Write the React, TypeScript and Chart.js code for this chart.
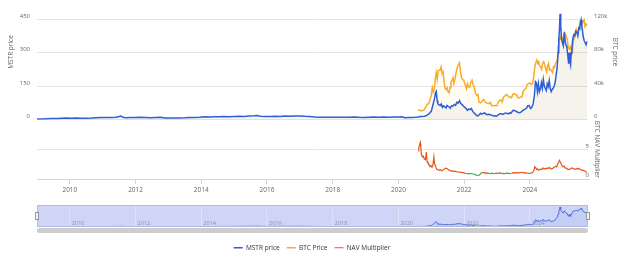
import React, { useEffect, useRef } from "react";
import { Chart, registerables } from "chart.js";

Chart.register(...registerables);

const FONT = "'Open Sans', 'DejaVu Sans', sans-serif";
const BLUE = "#2f5fd6";
const ORANGE = "#f6ad2b";
const RED = "#e2571c";
const GREEN = "#3fb34f";

const xTickYears = [2010, 2012, 2014, 2016, 2018, 2020, 2022, 2024];
const mstrTicks = [0, 150, 300, 450];
const btcTicks = [0, 40, 80, 120];
const navTicks = [0, 5];

const mstrYears = [
  2009.0, 2009.15, 2009.3, 2009.45, 2009.6, 2009.75, 2009.9, 2010.05, 2010.2, 2010.35, 2010.5, 2010.65, 2010.8, 2010.95,
  2011.1, 2011.25, 2011.4, 2011.5, 2011.55, 2011.62, 2011.7, 2011.85, 2012.0, 2012.15, 2012.3, 2012.45, 2012.6, 2012.75,
  2012.9, 2013.05, 2013.2, 2013.35, 2013.5, 2013.65, 2013.8, 2013.95, 2014.1, 2014.25, 2014.4, 2014.55, 2014.7, 2014.85,
  2015.0, 2015.15, 2015.3, 2015.45, 2015.6, 2015.7, 2015.8, 2015.95, 2016.1, 2016.25, 2016.4, 2016.55, 2016.7, 2016.85,
  2017.0, 2017.15, 2017.3, 2017.45, 2017.6, 2017.75, 2017.9, 2018.05, 2018.2, 2018.35, 2018.5, 2018.65, 2018.8, 2018.95,
  2019.1, 2019.25, 2019.4, 2019.55, 2019.7, 2019.85, 2020.0, 2020.1, 2020.2, 2020.3, 2020.4, 2020.5,
  2020.6, 2020.66, 2020.72, 2020.8, 2020.86, 2020.92, 2020.97, 2021.0, 2021.04, 2021.07, 2021.1, 2021.13, 2021.15, 2021.18,
  2021.2, 2021.24, 2021.27, 2021.3, 2021.34, 2021.37, 2021.41, 2021.45, 2021.48, 2021.52, 2021.55, 2021.58, 2021.62, 2021.66,
  2021.7, 2021.74, 2021.78, 2021.82, 2021.86, 2021.9, 2021.94, 2021.98, 2022.02, 2022.06, 2022.1, 2022.14, 2022.18, 2022.22,
  2022.26, 2022.3, 2022.34, 2022.38, 2022.42, 2022.46, 2022.5, 2022.54, 2022.58, 2022.62, 2022.66, 2022.7, 2022.74, 2022.78,
  2022.82, 2022.86, 2022.9, 2022.94, 2022.98, 2023.02, 2023.06, 2023.1, 2023.14, 2023.18, 2023.22, 2023.26, 2023.3, 2023.34,
  2023.38, 2023.42, 2023.46, 2023.5, 2023.54, 2023.58, 2023.62, 2023.66, 2023.7, 2023.74, 2023.78, 2023.82, 2023.86, 2023.9,
  2023.94, 2023.98, 2024.02, 2024.06, 2024.1, 2024.14, 2024.17, 2024.2, 2024.23, 2024.26, 2024.29, 2024.32, 2024.35, 2024.38,
  2024.41, 2024.44, 2024.47, 2024.5, 2024.53, 2024.56, 2024.59, 2024.62, 2024.65, 2024.68, 2024.71, 2024.74, 2024.77, 2024.8,
  2024.83, 2024.86, 2024.88, 2024.9, 2024.92, 2024.94, 2024.96, 2024.98, 2025.0, 2025.02, 2025.05, 2025.08, 2025.11, 2025.13,
  2025.16, 2025.18, 2025.2, 2025.22, 2025.24, 2025.26, 2025.28, 2025.31, 2025.34, 2025.37, 2025.4, 2025.43, 2025.46, 2025.49,
  2025.52, 2025.54, 2025.56, 2025.58, 2025.6, 2025.62, 2025.65, 2025.68, 2025.71, 2025.74,
];
const mstrPrice = [
  3, 2.5, 3.5, 4.5, 5, 6, 7, 6.5, 7, 6.5, 6, 7, 8.5, 9.5,
  10, 9.5, 11, 14, 16, 10.5, 8.5, 9, 9.5, 11, 10, 8.5, 10, 10.5,
  7.5, 7, 7, 7.5, 8, 9, 10, 10.5, 12.5, 11.5, 12.5, 13, 13.5, 13,
  14, 15, 14.5, 16, 17, 18.5, 15, 14, 13.5, 15, 14.5, 16, 15, 16.5,
  16.5, 15, 14, 12, 10.5, 11, 10.5, 11, 10.5, 11, 10.5, 12, 10.5, 10,
  11, 11.5, 11, 11.5, 11, 12, 12, 12.5, 8, 9, 9.5, 10.5,
  12, 14, 13.5, 15, 19, 24, 33, 37, 60, 78, 95, 120, 126, 85,
  70, 66, 63, 70, 55, 62, 58, 52, 63, 58, 56, 51, 62, 60,
  68, 64, 78, 74, 85, 72, 67, 60, 55, 50, 42, 48, 45, 50,
  38, 30, 25, 18, 17, 22, 29, 25, 28, 30, 25, 22, 24, 23,
  21, 19, 16, 17, 15, 19, 24, 27, 25, 23, 27, 29, 28, 26,
  30, 28, 36, 42, 40, 38, 34, 31, 32, 35, 40, 45, 47, 52,
  62, 63, 50, 55, 70, 110, 170, 165, 125, 160, 125, 138, 165, 140,
  180, 150, 140, 130, 160, 148, 175, 140, 125, 135, 140, 150, 165, 200,
  230, 300, 360, 400, 473, 420, 370, 350, 340, 330, 390, 345, 330, 320,
  280, 250, 300, 260, 245, 300, 320, 365, 380, 375, 395, 390, 375, 410,
  405, 430, 445, 420, 400, 375, 355, 345, 335, 350,
];

const btcYears = [
  2020.6, 2020.64, 2020.68, 2020.72, 2020.76, 2020.8, 2020.84, 2020.88, 2020.92, 2020.96, 2021.0, 2021.03, 2021.06, 2021.09,
  2021.12, 2021.15, 2021.18, 2021.21, 2021.24, 2021.27, 2021.3, 2021.33, 2021.36, 2021.39, 2021.42, 2021.45, 2021.48, 2021.51,
  2021.54, 2021.57, 2021.6, 2021.63, 2021.66, 2021.69, 2021.72, 2021.75, 2021.79, 2021.83, 2021.86, 2021.89, 2021.92, 2021.95,
  2021.99, 2022.03, 2022.07, 2022.1, 2022.13, 2022.17, 2022.2, 2022.24, 2022.27, 2022.31, 2022.35, 2022.39, 2022.42, 2022.45,
  2022.49, 2022.53, 2022.57, 2022.6, 2022.64, 2022.68, 2022.72, 2022.76, 2022.8, 2022.84, 2022.88, 2022.92, 2022.96, 2023.0,
  2023.04, 2023.08, 2023.12, 2023.16, 2023.2, 2023.24, 2023.28, 2023.32, 2023.36, 2023.4, 2023.44, 2023.48, 2023.52, 2023.56,
  2023.6, 2023.64, 2023.68, 2023.72, 2023.76, 2023.8, 2023.84, 2023.88, 2023.92, 2023.96, 2024.0, 2024.04, 2024.08, 2024.12,
  2024.15, 2024.18, 2024.21, 2024.24, 2024.27, 2024.3, 2024.33, 2024.36, 2024.39, 2024.42, 2024.45, 2024.48, 2024.51, 2024.54,
  2024.57, 2024.6, 2024.63, 2024.66, 2024.69, 2024.72, 2024.75, 2024.78, 2024.81, 2024.84, 2024.86, 2024.88, 2024.9, 2024.93,
  2024.96, 2024.99, 2025.02, 2025.05, 2025.08, 2025.11, 2025.14, 2025.17, 2025.2, 2025.23, 2025.26, 2025.29, 2025.32, 2025.35,
  2025.38, 2025.41, 2025.44, 2025.47, 2025.5, 2025.53, 2025.56, 2025.59, 2025.62, 2025.65, 2025.68, 2025.71, 2025.74,
];
// thousands of USD
const btcPrice = [
  11.8, 11.5, 10.6, 10.7, 11.3, 13.0, 15.5, 18.5, 19.0, 23.5, 29, 38, 33, 36,
  48, 56, 48, 58, 59, 59, 63, 55, 57, 45, 37, 36, 38, 33,
  32, 38, 45, 47, 50, 43, 48, 55, 62, 66, 68, 57, 50, 48,
  47, 42, 37, 43, 39, 39, 44, 47, 42, 38, 31, 29, 30, 21,
  20, 21, 23, 24, 21, 20, 19.5, 19, 20.5, 16.5, 16.5, 17, 16.5, 16.8,
  21, 23, 23.5, 21, 27, 28, 30, 29, 27, 27, 26, 30, 31, 30,
  29.5, 26, 26, 27, 27, 34, 36, 37, 42, 43, 44, 42, 43, 52,
  62, 68, 71, 67, 69, 64, 63, 60, 67, 69, 66, 61, 57, 64,
  67, 59, 60, 58, 56, 63, 62, 67, 69, 72, 88, 91, 97, 96,
  101, 94, 97, 104, 102, 98, 96, 86, 84, 87, 83, 80, 94, 97,
  104, 108, 105, 107, 108, 118, 119, 114, 117, 119, 111, 114, 112,
];

const navYears = [
  2020.6, 2020.62, 2020.65, 2020.67, 2020.7, 2020.73, 2020.76, 2020.79, 2020.82, 2020.85, 2020.87, 2020.9, 2020.93, 2020.96,
  2020.99, 2021.02, 2021.05, 2021.08, 2021.1, 2021.13, 2021.16, 2021.2, 2021.24, 2021.28, 2021.32, 2021.36, 2021.4, 2021.44,
  2021.48, 2021.52, 2021.56, 2021.6, 2021.64, 2021.68, 2021.72, 2021.76, 2021.8, 2021.84, 2021.88, 2021.92, 2021.96, 2022.0,
  2022.04, 2022.08, 2022.12, 2022.16, 2022.2, 2022.24, 2022.28, 2022.32, 2022.36, 2022.4, 2022.44, 2022.48, 2022.52, 2022.56,
  2022.6, 2022.64, 2022.68, 2022.72, 2022.76, 2022.8, 2022.84, 2022.88, 2022.92, 2022.96, 2023.0, 2023.04, 2023.08, 2023.12,
  2023.16, 2023.2, 2023.24, 2023.28, 2023.32, 2023.36, 2023.4, 2023.44, 2023.48, 2023.52, 2023.56, 2023.6, 2023.64, 2023.68,
  2023.72, 2023.76, 2023.8, 2023.84, 2023.88, 2023.92, 2023.96, 2024.0, 2024.04, 2024.08, 2024.12, 2024.15, 2024.18, 2024.21,
  2024.24, 2024.27, 2024.3, 2024.33, 2024.36, 2024.4, 2024.43, 2024.46, 2024.5, 2024.53, 2024.56, 2024.6, 2024.63, 2024.66,
  2024.7, 2024.73, 2024.76, 2024.79, 2024.82, 2024.85, 2024.88, 2024.9, 2024.92, 2024.95, 2024.98, 2025.01, 2025.04, 2025.07,
  2025.1, 2025.13, 2025.16, 2025.19, 2025.22, 2025.25, 2025.28, 2025.31, 2025.34, 2025.37, 2025.4, 2025.43, 2025.46, 2025.49,
  2025.52, 2025.55, 2025.58, 2025.61, 2025.64, 2025.67, 2025.7, 2025.74,
];
const navMultiplier = [
  4.8, 5.3, 6.0, 6.3, 4.2, 3.8, 3.9, 3.4, 3.3, 4.6, 3.0, 2.7, 2.5, 2.1,
  2.3, 2.0, 2.4, 3.8, 2.6, 2.2, 1.7, 1.6, 1.5, 1.6, 1.4, 1.6, 1.7, 1.85,
  1.8, 1.6, 1.5, 1.35, 1.4, 1.3, 1.35, 1.25, 1.2, 1.2, 1.15, 1.15, 1.1, 1.05,
  0.95, 0.9, 0.95, 0.9, 0.95, 0.9, 0.85, 0.8, 0.7, 0.6, 0.6, 0.75, 1.05, 1.15,
  1.05, 1.1, 0.95, 1.05, 0.95, 0.9, 1.0, 0.95, 0.9, 0.95, 1.0, 0.95, 1.05, 1.0,
  0.9, 0.95, 0.92, 0.98, 1.0, 0.95, 0.9, 0.95, 1.05, 1.1, 1.05, 1.1, 1.05, 1.1,
  1.1, 1.15, 1.05, 1.1, 1.05, 1.0, 0.95, 0.95, 1.0, 1.1, 1.4, 2.1, 1.9, 1.6,
  1.75, 1.5, 1.6, 1.7, 1.65, 1.9, 1.7, 1.8, 1.75, 1.9, 1.8, 1.95, 1.8, 1.7,
  1.85, 2.0, 2.05, 2.2, 2.1, 2.6, 2.9, 3.2, 3.0, 2.6, 2.3, 2.1, 2.2, 1.9,
  1.85, 1.8, 1.6, 1.65, 1.7, 1.8, 1.9, 1.85, 1.7, 1.75, 1.65, 1.8, 1.7, 1.85,
  1.7, 1.6, 1.55, 1.45, 1.5, 1.35, 1.25, 1.15,
];

const pts = (xs: number[], ys: number[]) => xs.map((x, i) => ({ x, y: ys[i] }));
const setTicks = (vals: number[]) => (s: any) => {
  s.ticks = vals.map((v) => ({ value: v }));
};

const axisTitles = {
  id: "axisTitles",
  afterDraw(chart: any) {
    const ctx = chart.ctx;
    const a = chart.chartArea;
    const nav = chart.scales.yNAV;
    const items = [
      { t: "MSTR price", x: a.left - 26, y: a.top + 33, r: -Math.PI / 2 },
      { t: "BTC price", x: a.right + 27, y: a.top + 33, r: Math.PI / 2 },
      { t: "BTC NAV Multiplier", x: a.right + 8.5, y: (nav.top + nav.bottom) / 2, r: Math.PI / 2 },
    ];
    ctx.save();
    ctx.fillStyle = "#666666";
    ctx.font = `6.5px ${FONT}`;
    ctx.textAlign = "center";
    ctx.textBaseline = "middle";
    for (const it of items) {
      ctx.save();
      ctx.translate(it.x, it.y);
      ctx.rotate(it.r);
      ctx.fillText(it.t, 0, 0);
      ctx.restore();
    }
    ctx.restore();
  },
};

const navigatorDecor = {
  id: "navigatorDecor",
  beforeDraw(chart: any) {
    const { ctx, chartArea: a } = chart;
    ctx.save();
    ctx.fillStyle = "#cfd5f7";
    ctx.fillRect(a.left, a.top, a.right - a.left, a.bottom - a.top);
    ctx.restore();
  },
  afterDraw(chart: any) {
    const { ctx, chartArea: a } = chart;
    const xs = chart.scales.x;
    ctx.save();
    ctx.fillStyle = "#8d90a6";
    ctx.font = `5.5px ${FONT}`;
    ctx.textAlign = "left";
    ctx.textBaseline = "middle";
    for (const yr of xTickYears) {
      ctx.fillText(String(yr), xs.getPixelForValue(yr) + 2, a.bottom - 4);
    }
    ctx.strokeStyle = "#b4bbe2";
    ctx.lineWidth = 1;
    ctx.strokeRect(a.left + 0.5, a.top + 0.5, a.right - a.left - 1, a.bottom - a.top - 1);
    const mid = (a.top + a.bottom) / 2;
    for (const x of [a.left, a.right]) {
      ctx.fillStyle = "#f2f2f2";
      ctx.strokeStyle = "#999999";
      ctx.fillRect(x - 2, mid - 4, 4, 8);
      ctx.strokeRect(x - 2 + 0.5, mid - 4 + 0.5, 3, 7);
    }
    ctx.restore();
  },
};

export default function App() {
  const mainRef = useRef<HTMLCanvasElement>(null);
  const navRef = useRef<HTMLCanvasElement>(null);

  useEffect(() => {
    const tickFont = { size: 6, family: FONT };
    const main = new Chart(mainRef.current!, {
      type: "line",
      data: {
        datasets: [
          {
            label: "MSTR price",
            data: pts(mstrYears, mstrPrice),
            yAxisID: "yMSTR",
            borderColor: BLUE,
            backgroundColor: "rgba(0,0,0,0.035)",
            fill: "origin",
            borderWidth: 1.5,
            pointRadius: 0,
            pointStyle: "line",
            clip: { left: 0, right: 0, top: 8, bottom: 0 },
          } as any,
          {
            label: "BTC Price",
            data: pts(btcYears, btcPrice),
            yAxisID: "yBTC",
            borderColor: ORANGE,
            backgroundColor: "rgba(247,176,38,0.045)",
            fill: "origin",
            borderWidth: 1.5,
            pointRadius: 0,
            pointStyle: "line",
            clip: { left: 0, right: 0, top: 8, bottom: 0 },
          } as any,
          {
            label: "NAV Multiplier",
            data: pts(navYears, navMultiplier),
            yAxisID: "yNAV",
            borderColor: RED,
            backgroundColor: RED,
            fill: false,
            borderWidth: 1.2,
            pointRadius: 0,
            pointStyle: "line",
            segment: {
              borderColor: (c: any) => ((c.p0.parsed.y + c.p1.parsed.y) / 2 < 1 ? GREEN : RED),
            },
          } as any,
        ],
      },
      options: {
        animation: false,
        responsive: false,
        events: [],
        layout: { padding: { top: 19, left: 0, right: 0, bottom: -3 } },
        plugins: {
          tooltip: { enabled: false },
          legend: {
            position: "bottom",
            labels: {
              usePointStyle: true,
              pointStyleWidth: 9,
              padding: 7,
              color: "#333333",
              font: { size: 6.5, family: FONT },
            },
          },
        },
        scales: {
          x: {
            type: "linear",
            min: 2009,
            max: 2025.77,
            afterBuildTicks: setTicks(xTickYears),
            afterFit: (s: any) => {
              s.height = 58.5;
            },
            ticks: {
              font: { size: 6.5, family: FONT },
              color: "#666666",
              padding: 2,
              maxRotation: 0,
              callback: (v: any) => String(v),
            },
            grid: { drawOnChartArea: false, drawTicks: true, tickLength: 5, color: "#ccd6eb" },
            border: { color: "#ccd6eb", width: 1 },
          },
          yMSTR: {
            type: "linear",
            position: "left",
            stack: "L",
            stackWeight: 100,
            weight: 2,
            min: 0,
            max: 450,
            afterBuildTicks: setTicks(mstrTicks),
            afterFit: (s: any) => {
              s.width = 37;
            },
            ticks: { font: tickFont, color: "#666666", padding: 7, labelOffset: -3 },
            grid: { color: "#e6e6e6", drawTicks: false },
            border: { display: false },
          },
          yDummy: {
            type: "linear",
            position: "left",
            stack: "L",
            stackWeight: 59,
            weight: 1,
            min: 0,
            max: 1,
            afterFit: (s: any) => {
              s.width = 37;
            },
            ticks: { display: false },
            grid: { display: false },
            border: { display: false },
          },
          yBTC: {
            type: "linear",
            position: "right",
            stack: "R",
            stackWeight: 100,
            weight: 1,
            min: 0,
            max: 120,
            afterBuildTicks: setTicks(btcTicks),
            afterFit: (s: any) => {
              s.width = 36;
            },
            ticks: {
              font: tickFont,
              color: "#666666",
              padding: 6,
              labelOffset: -3,
              callback: (v: any) => (v === 0 ? "0" : `${v}k`),
            },
            grid: { drawOnChartArea: false, drawTicks: false },
            border: { display: false },
          },
          yNAV: {
            type: "linear",
            position: "right",
            stack: "R",
            stackWeight: 59,
            weight: 2,
            min: 0,
            max: 10.17,
            afterBuildTicks: setTicks(navTicks),
            afterFit: (s: any) => {
              s.width = 36;
            },
            ticks: { font: tickFont, color: "#666666", padding: 1, mirror: true, labelOffset: -4 },
            grid: { color: "#e6e6e6", drawTicks: false },
            border: { display: false },
          },
        } as any,
      },
      plugins: [axisTitles],
    });

    const nav = new Chart(navRef.current!, {
      type: "line",
      data: {
        datasets: [
          {
            label: "MSTR price",
            data: pts(mstrYears, mstrPrice),
            borderColor: "#4a6fd8",
            backgroundColor: "rgba(74,111,216,0.08)",
            fill: "origin",
            borderWidth: 1,
            pointRadius: 0,
          },
        ],
      },
      options: {
        animation: false,
        responsive: false,
        events: [],
        layout: { padding: { top: 0, left: 37, right: 36, bottom: 0 } },
        plugins: { legend: { display: false }, tooltip: { enabled: false } },
        scales: {
          x: {
            type: "linear",
            min: 2009,
            max: 2025.77,
            afterBuildTicks: setTicks(xTickYears),
            afterFit: (s: any) => {
              s.height = 0;
            },
            ticks: { display: false },
            grid: { drawTicks: false, color: "rgba(255,255,255,0.3)" },
            border: { display: false },
          },
          y: { display: false, min: 0, max: 520 },
        } as any,
      },
      plugins: [navigatorDecor],
    });

    return () => {
      main.destroy();
      nav.destroy();
    };
  }, []);

  return (
    <div
      style={{
        position: "fixed",
        left: 0,
        top: 0,
        width: 624,
        height: 258,
        background: "#ffffff",
        overflow: "hidden",
      }}
    >
      <canvas ref={mainRef} width={624} height={258} style={{ position: "absolute", left: 0, top: 0 }} />
      <canvas ref={navRef} width={624} height={22} style={{ position: "absolute", left: 0, top: 205 }} />
      <div
        style={{
          position: "absolute",
          left: 37,
          top: 228,
          width: 551,
          height: 5,
          background: "#cdcdcd",
          borderRadius: 2.5,
        }}
      />
    </div>
  );
}
